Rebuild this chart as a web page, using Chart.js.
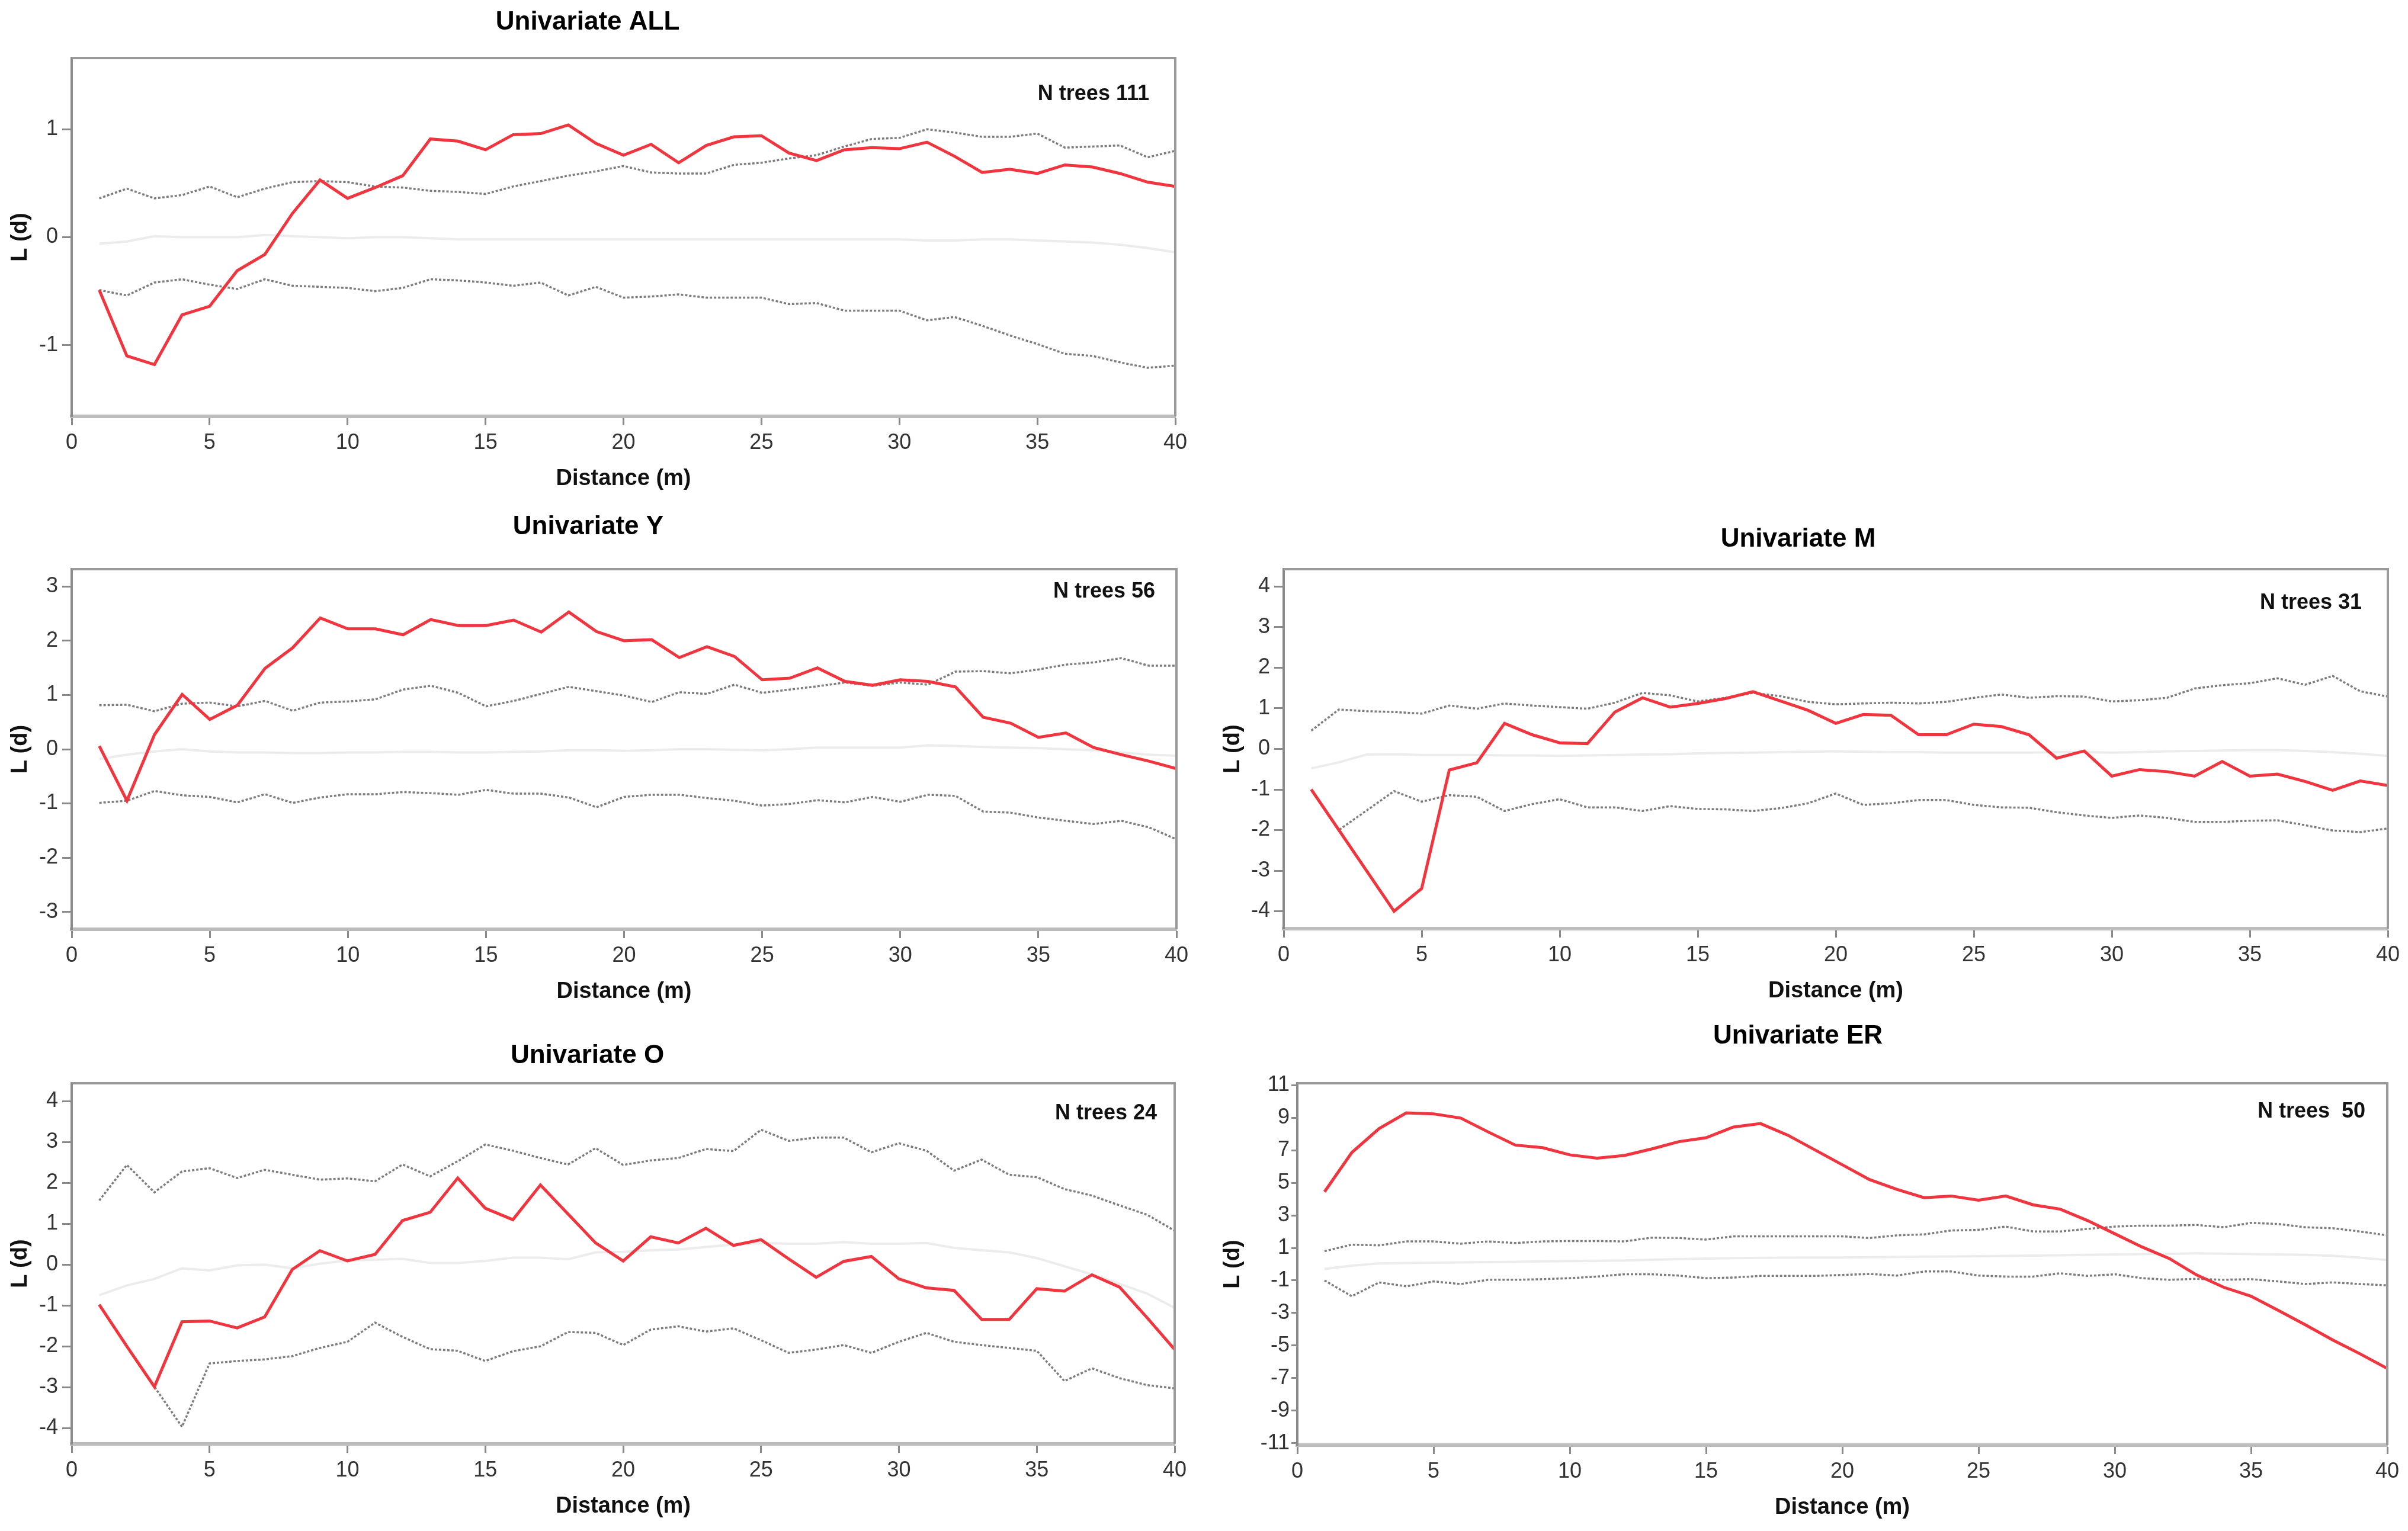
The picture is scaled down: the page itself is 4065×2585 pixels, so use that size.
<!DOCTYPE html>
<html>
<head>
<meta charset="utf-8">
<title>Univariate L(d)</title>
<script src="https://cdn.jsdelivr.net/npm/chart.js@4.4.1/dist/chart.umd.min.js"></script>
<style>
  html, body { margin: 0; padding: 0; background: #fff; }
  body { width: 4065px; height: 2585px; position: relative; overflow: hidden; }
  canvas { position: absolute; }
</style>
</head>
<body>
<canvas id="chartAll"></canvas>
<canvas id="chartY"></canvas>
<canvas id="chartM"></canvas>
<canvas id="chartO"></canvas>
<canvas id="chartER"></canvas>
<script>
// distance classes (m)
const distance = [1, 2, 3, 4, 5, 6, 7, 8, 9, 10, 11, 12, 13, 14, 15, 16, 17, 18, 19, 20,
  21, 22, 23, 24, 25, 26, 27, 28, 29, 30, 31, 32, 33, 34, 35, 36, 37, 38, 39, 40];
const xTicks = [0, 5, 10, 15, 20, 25, 30, 35, 40];

// Univariate ALL
const allObserved = [-0.49, -1.10, -1.18, -0.72, -0.64, -0.31, -0.16, 0.22, 0.53, 0.36, 0.46, 0.57, 0.91, 0.89, 0.81, 0.95, 0.96, 1.04, 0.87, 0.76,
  0.86, 0.69, 0.85, 0.93, 0.94, 0.78, 0.71, 0.81, 0.83, 0.82, 0.88, 0.75, 0.60, 0.63, 0.59, 0.67, 0.65, 0.59, 0.51, 0.47];
const allUpper = [0.36, 0.45, 0.36, 0.39, 0.47, 0.37, 0.45, 0.51, 0.52, 0.51, 0.47, 0.46, 0.43, 0.42, 0.40, 0.47, 0.52, 0.57, 0.61, 0.66,
  0.60, 0.59, 0.59, 0.67, 0.69, 0.73, 0.76, 0.84, 0.91, 0.92, 1.00, 0.97, 0.93, 0.93, 0.96, 0.83, 0.84, 0.85, 0.74, 0.80];
const allLower = [-0.49, -0.54, -0.42, -0.39, -0.44, -0.48, -0.39, -0.45, -0.46, -0.47, -0.50, -0.47, -0.39, -0.40, -0.42, -0.45, -0.42, -0.54, -0.46, -0.56,
  -0.55, -0.53, -0.56, -0.56, -0.56, -0.62, -0.61, -0.68, -0.68, -0.68, -0.77, -0.74, -0.82, -0.91, -0.99, -1.08, -1.10, -1.16, -1.21, -1.19];
const allMean = [-0.06, -0.04, 0.01, 0.00, 0.00, 0.00, 0.02, 0.01, 0.00, -0.01, 0.00, 0.00, -0.01, -0.02, -0.02, -0.02, -0.02, -0.02, -0.02, -0.02,
  -0.02, -0.02, -0.02, -0.02, -0.02, -0.02, -0.02, -0.02, -0.02, -0.02, -0.03, -0.03, -0.02, -0.02, -0.03, -0.04, -0.05, -0.07, -0.10, -0.14];
const allTicks = [-1, 0, 1];

// Univariate Y
const yObserved = [0.06, -0.95, 0.27, 1.01, 0.55, 0.81, 1.49, 1.87, 2.42, 2.22, 2.22, 2.11, 2.39, 2.28, 2.28, 2.38, 2.16, 2.53, 2.17, 2.00,
  2.02, 1.69, 1.89, 1.71, 1.28, 1.31, 1.50, 1.25, 1.18, 1.28, 1.25, 1.15, 0.59, 0.48, 0.22, 0.30, 0.03, -0.10, -0.22, -0.36];
const yUpper = [0.81, 0.82, 0.70, 0.84, 0.86, 0.79, 0.89, 0.71, 0.86, 0.88, 0.92, 1.10, 1.17, 1.04, 0.79, 0.89, 1.02, 1.15, 1.07, 0.99,
  0.87, 1.05, 1.02, 1.19, 1.04, 1.10, 1.16, 1.23, 1.17, 1.23, 1.19, 1.43, 1.44, 1.40, 1.47, 1.56, 1.60, 1.68, 1.54, 1.54];
const yLower = [-0.99, -0.95, -0.77, -0.85, -0.88, -0.98, -0.83, -0.99, -0.89, -0.83, -0.83, -0.79, -0.81, -0.84, -0.75, -0.82, -0.82, -0.89, -1.07, -0.88,
  -0.84, -0.84, -0.90, -0.95, -1.04, -1.01, -0.94, -0.98, -0.88, -0.97, -0.84, -0.86, -1.15, -1.17, -1.26, -1.32, -1.38, -1.32, -1.44, -1.66];
const yMean = [-0.18, -0.10, -0.04, 0.00, -0.04, -0.06, -0.06, -0.07, -0.07, -0.06, -0.06, -0.05, -0.05, -0.06, -0.06, -0.05, -0.04, -0.02, -0.02, -0.03,
  -0.02, 0.00, 0.00, -0.01, -0.02, 0.00, 0.03, 0.03, 0.03, 0.03, 0.07, 0.06, 0.04, 0.03, 0.02, 0.00, -0.02, -0.06, -0.10, -0.12];
const yTicks = [-3, -2, -1, 0, 1, 2, 3];

// Univariate M
const mObserved = [-1.00, -2.00, -3.00, -4.00, -3.44, -0.52, -0.34, 0.63, 0.35, 0.15, 0.13, 0.91, 1.26, 1.03, 1.12, 1.24, 1.41, 1.18, 0.95, 0.63,
  0.85, 0.83, 0.35, 0.35, 0.61, 0.55, 0.35, -0.23, -0.05, -0.67, -0.51, -0.56, -0.67, -0.31, -0.67, -0.62, -0.80, -1.02, -0.79, -0.90];
const mUpper = [0.45, 0.97, 0.93, 0.91, 0.87, 1.07, 0.99, 1.12, 1.07, 1.03, 0.99, 1.14, 1.38, 1.32, 1.17, 1.26, 1.38, 1.30, 1.16, 1.10,
  1.12, 1.14, 1.12, 1.16, 1.26, 1.34, 1.26, 1.30, 1.29, 1.17, 1.20, 1.26, 1.49, 1.57, 1.62, 1.74, 1.58, 1.80, 1.42, 1.29];
const mLower = [-1.00, -2.00, -1.52, -1.04, -1.30, -1.14, -1.18, -1.53, -1.36, -1.24, -1.44, -1.44, -1.53, -1.41, -1.48, -1.49, -1.53, -1.46, -1.34, -1.10,
  -1.38, -1.34, -1.26, -1.26, -1.38, -1.44, -1.45, -1.56, -1.64, -1.70, -1.64, -1.70, -1.80, -1.80, -1.77, -1.76, -1.88, -2.01, -2.05, -1.96];
const mMean = [-0.48, -0.33, -0.14, -0.13, -0.15, -0.15, -0.15, -0.16, -0.16, -0.17, -0.16, -0.15, -0.14, -0.13, -0.11, -0.10, -0.09, -0.08, -0.07, -0.06,
  -0.07, -0.08, -0.08, -0.09, -0.09, -0.09, -0.09, -0.08, -0.08, -0.09, -0.08, -0.06, -0.05, -0.04, -0.03, -0.03, -0.05, -0.08, -0.12, -0.17];
const mTicks = [-4, -3, -2, -1, 0, 1, 2, 3, 4];

// Univariate O
const oObserved = [-0.98, -2.00, -2.99, -1.40, -1.38, -1.55, -1.28, -0.12, 0.34, 0.09, 0.25, 1.08, 1.28, 2.12, 1.38, 1.10, 1.95, 1.24, 0.53, 0.09,
  0.68, 0.53, 0.89, 0.47, 0.61, 0.14, -0.31, 0.08, 0.20, -0.35, -0.57, -0.63, -1.34, -1.34, -0.59, -0.65, -0.25, -0.55, -1.30, -2.08];
const oUpper = [1.57, 2.44, 1.77, 2.28, 2.36, 2.12, 2.32, 2.20, 2.08, 2.11, 2.04, 2.45, 2.16, 2.53, 2.94, 2.79, 2.61, 2.45, 2.85, 2.44,
  2.55, 2.61, 2.83, 2.78, 3.30, 3.03, 3.11, 3.11, 2.75, 2.97, 2.79, 2.30, 2.57, 2.20, 2.14, 1.85, 1.69, 1.45, 1.22, 0.83];
const oLower = [-0.98, -2.00, -2.99, -3.97, -2.42, -2.36, -2.32, -2.24, -2.04, -1.89, -1.42, -1.77, -2.07, -2.11, -2.36, -2.12, -2.00, -1.65, -1.67, -1.97,
  -1.59, -1.51, -1.64, -1.56, -1.85, -2.16, -2.08, -1.97, -2.16, -1.89, -1.67, -1.89, -1.97, -2.04, -2.11, -2.85, -2.54, -2.78, -2.95, -3.03];
const oMean = [-0.75, -0.51, -0.35, -0.09, -0.14, -0.02, 0.00, -0.09, 0.02, 0.10, 0.12, 0.14, 0.04, 0.04, 0.09, 0.17, 0.17, 0.13, 0.30, 0.31,
  0.35, 0.37, 0.43, 0.49, 0.53, 0.51, 0.51, 0.55, 0.51, 0.51, 0.53, 0.41, 0.35, 0.30, 0.16, -0.04, -0.24, -0.47, -0.71, -1.06];
const oTicks = [-4, -3, -2, -1, 0, 1, 2, 3, 4];

// Univariate ER
const erObserved = [4.45, 6.86, 8.33, 9.30, 9.24, 8.98, 8.13, 7.32, 7.16, 6.72, 6.52, 6.68, 7.08, 7.53, 7.77, 8.43, 8.64, 7.93, 7.02, 6.11,
  5.20, 4.60, 4.09, 4.19, 3.93, 4.19, 3.65, 3.38, 2.68, 1.87, 1.06, 0.35, -0.66, -1.42, -1.97, -2.84, -3.73, -4.66, -5.51, -6.41];
const erUpper = [0.80, 1.20, 1.16, 1.40, 1.40, 1.26, 1.40, 1.30, 1.40, 1.42, 1.42, 1.40, 1.63, 1.61, 1.51, 1.71, 1.71, 1.71, 1.71, 1.71,
  1.61, 1.77, 1.83, 2.07, 2.11, 2.31, 2.01, 2.01, 2.17, 2.31, 2.37, 2.37, 2.41, 2.27, 2.54, 2.47, 2.27, 2.21, 2.01, 1.77];
const erLower = [-1.00, -1.97, -1.12, -1.36, -1.06, -1.22, -0.96, -0.96, -0.92, -0.86, -0.76, -0.62, -0.62, -0.70, -0.86, -0.82, -0.72, -0.72, -0.72, -0.66,
  -0.60, -0.70, -0.45, -0.45, -0.70, -0.76, -0.76, -0.56, -0.72, -0.62, -0.86, -0.96, -0.90, -0.96, -0.92, -1.06, -1.22, -1.12, -1.22, -1.30];
const erMean = [-0.29, -0.09, 0.05, 0.07, 0.09, 0.11, 0.13, 0.15, 0.17, 0.19, 0.21, 0.23, 0.27, 0.31, 0.35, 0.37, 0.39, 0.40, 0.41, 0.41,
  0.43, 0.45, 0.46, 0.47, 0.49, 0.51, 0.53, 0.55, 0.57, 0.60, 0.62, 0.64, 0.66, 0.65, 0.62, 0.60, 0.57, 0.52, 0.40, 0.25];
const erTicks = [-11, -9, -7, -5, -3, -1, 1, 3, 5, 7, 9, 11];

const FONT = "'Liberation Sans', Arial, Helvetica, sans-serif";

function toPoints(values) {
  return values.map((v, i) => ({ x: distance[i], y: v }));
}

// grey frame on top/right of the plot box and the "N trees" note
const framePlugin = {
  id: "frame",
  afterDraw(chart, args, opts) {
    const { ctx, chartArea: a } = chart;
    ctx.save();
    ctx.strokeStyle = "#9a9a9a";
    ctx.lineWidth = 4;
    ctx.beginPath();
    ctx.moveTo(a.left, a.top);
    ctx.lineTo(a.right, a.top);
    ctx.lineTo(a.right, a.bottom);
    ctx.stroke();
    ctx.font = "bold 36px " + FONT;
    ctx.fillStyle = "#111";
    ctx.textAlign = "right";
    ctx.textBaseline = "middle";
    ctx.fillText(opts.text, a.right - opts.dx, a.top + opts.dy);
    ctx.restore();
  },
};

function makePanel(p) {
  const canvas = document.getElementById(p.id);
  canvas.width = p.width;
  canvas.height = p.height;
  canvas.style.left = p.left + "px";
  canvas.style.top = p.top + "px";

  return new Chart(canvas.getContext("2d"), {
    type: "line",
    data: {
      datasets: [
        {
          label: "Observed",
          data: toPoints(p.observed),
          borderColor: "#f0353f",
          borderWidth: 5,
        },
        {
          label: "Upper envelope",
          data: toPoints(p.upper),
          borderColor: "#7d7d7d",
          borderWidth: 3.5,
          borderDash: [4, 3],
        },
        {
          label: "Lower envelope",
          data: toPoints(p.lower),
          borderColor: "#7d7d7d",
          borderWidth: 3.5,
          borderDash: [4, 3],
        },
        {
          label: "Mean",
          data: toPoints(p.mean),
          borderColor: "#ececec",
          borderWidth: 4,
        },
      ],
    },
    options: {
      responsive: false,
      animation: false,
      devicePixelRatio: 1,
      elements: { point: { radius: 0 }, line: { tension: 0 } },
      layout: { padding: { top: 0, right: 30, bottom: 0, left: 0 } },
      plugins: {
        legend: { display: false },
        tooltip: { enabled: false },
        title: {
          display: true,
          text: p.title,
          color: "#000",
          font: { family: FONT, size: 44, weight: "bold", lineHeight: 1.2 },
          padding: { top: p.titleTop, bottom: p.titleBottom },
        },
        frame: { text: p.note, dx: p.noteDx, dy: p.noteDy },
      },
      scales: {
        x: {
          type: "linear",
          min: 0,
          max: 40,
          afterBuildTicks: (scale) => {
            scale.ticks = xTicks.map((v) => ({ value: v }));
          },
          afterFit: (scale) => {
            scale.height = 135;
          },
          grid: {
            drawOnChartArea: false,
            drawTicks: true,
            tickLength: 15,
            tickWidth: 3,
            tickColor: "#8a8a8a",
          },
          border: { display: true, color: "#bdbdbd", width: 6 },
          ticks: {
            color: "#333",
            padding: 8,
            maxRotation: 0,
            font: { family: FONT, size: 36 },
          },
          title: {
            display: true,
            text: "Distance (m)",
            color: "#111",
            font: { family: FONT, size: 38, weight: "bold", lineHeight: 1.2 },
            padding: { top: 0, bottom: 7 },
          },
        },
        y: {
          type: "linear",
          min: p.yMin,
          max: p.yMax,
          afterBuildTicks: (scale) => {
            scale.ticks = p.yTicks.map((v) => ({ value: v }));
          },
          afterFit: (scale) => {
            scale.width = p.axisWidth;
          },
          grid: {
            drawOnChartArea: false,
            drawTicks: true,
            tickLength: p.tickLength,
            tickWidth: 3,
            tickColor: "#8a8a8a",
          },
          border: { display: true, color: "#8a8a8a", width: 4 },
          ticks: {
            color: "#333",
            padding: p.tickPad,
            font: { family: FONT, size: 36 },
          },
          title: {
            display: true,
            text: "L (d)",
            color: "#111",
            font: { family: FONT, size: 38, weight: "bold", lineHeight: 1.2 },
            padding: { top: p.yTitlePad, bottom: 0 },
          },
        },
      },
    },
    plugins: [framePlugin],
  });
}

const panels = [
  {
    id: "chartAll", title: "Univariate ALL", note: "N trees 111",
    observed: allObserved, upper: allUpper, lower: allLower, mean: allMean,
    yTicks: allTicks, yMin: -1.66, yMax: 1.66,
    left: 0, top: 0, width: 2014, height: 838, axisWidth: 121,
    titleTop: 11.6, titleBottom: 33.6, yTitlePad: 12, tickLength: 16, tickPad: 7,
    noteDx: 44, noteDy: 61,
  },
  {
    id: "chartY", title: "Univariate Y", note: "N trees 56",
    observed: yObserved, upper: yUpper, lower: yLower, mean: yMean,
    yTicks: yTicks, yMin: -3.32, yMax: 3.32,
    left: 0, top: 840, width: 2016, height: 864, axisWidth: 121,
    titleTop: 23.6, titleBottom: 44.6, yTitlePad: 12, tickLength: 16, tickPad: 7,
    noteDx: 36, noteDy: 38,
  },
  {
    id: "chartM", title: "Univariate M", note: "N trees 31",
    observed: mObserved, upper: mUpper, lower: mLower, mean: mMean,
    yTicks: mTicks, yMin: -4.43, yMax: 4.43,
    left: 2040, top: 840, width: 2021, height: 863, axisWidth: 127,
    titleTop: 44.6, titleBottom: 23.6, yTitlePad: 19, tickLength: 16, tickPad: 7,
    noteDx: 44, noteDy: 57,
  },
  {
    id: "chartO", title: "Univariate O", note: "N trees 24",
    observed: oObserved, upper: oUpper, lower: oLower, mean: oMean,
    yTicks: oTicks, yMin: -4.39, yMax: 4.44,
    left: 0, top: 1720, width: 2013, height: 853, axisWidth: 121,
    titleTop: 36.6, titleBottom: 19.6, yTitlePad: 12, tickLength: 16, tickPad: 7,
    noteDx: 30, noteDy: 51,
  },
  {
    id: "chartER", title: "Univariate ER", note: "N trees  50",
    observed: erObserved, upper: erUpper, lower: erLower, mean: erMean,
    yTicks: erTicks, yMin: -11.12, yMax: 11.12,
    left: 2040, top: 1700, width: 2020, height: 875, axisWidth: 150,
    titleTop: 23.6, titleBottom: 52.6, yTitlePad: 19, tickLength: 10, tickPad: 3,
    noteDx: 37, noteDy: 48,
  },
];

panels.forEach(makePanel);
</script>
</body>
</html>
